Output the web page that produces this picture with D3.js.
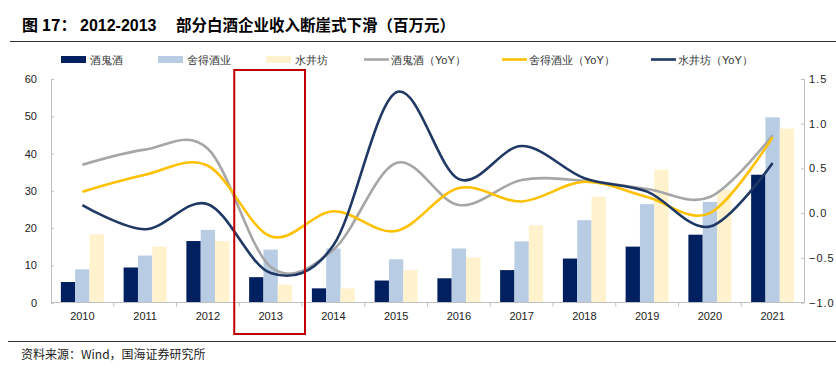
<!DOCTYPE html>
<html>
<head>
<meta charset="utf-8">
<script src="https://cdn.jsdelivr.net/npm/d3@7"></script>
<style>
  body { margin: 0; background: #fff; }
  text { font-family: "Liberation Sans", Arial, sans-serif; }
  .cn { font-family: "Noto Sans CJK SC", sans-serif; }
</style>
</head>
<body>
<div id="app"></div>
<script>
// data
const years = ["2010","2011","2012","2013","2014","2015","2016","2017","2018","2019","2020","2021"];
const barNames = ["酒鬼酒", "舍得酒业", "水井坊"];
const jgj = [5.5, 9.4, 16.5, 6.8, 3.8, 5.9, 6.5, 8.7, 11.8, 15.0, 18.2, 34.3];
const sd = [8.9, 12.6, 19.5, 14.2, 14.5, 11.6, 14.5, 16.4, 22.1, 26.4, 27.0, 49.7];
const sjf = [18.3, 15.0, 16.5, 4.8, 3.8, 8.7, 12.1, 20.7, 28.4, 35.7, 30.3, 46.7];
const lineNames = ["酒鬼酒（YoY）", "舍得酒业（YoY）", "水井坊（YoY）"];
const jgjYoY = [0.54, 0.71, 0.72, -0.60, -0.41, 0.56, 0.09, 0.37, 0.36, 0.27, 0.18, 0.87];
const sdYoY = [0.24, 0.43, 0.53, -0.26, 0.02, -0.20, 0.28, 0.13, 0.35, 0.18, 0.00, 0.85];
const sjfYoY = [0.09, -0.18, 0.10, -0.67, -0.36, 1.35, 0.38, 0.75, 0.39, 0.24, -0.15, 0.56];
const leftTicks = [0, 10, 20, 30, 40, 50, 60];
const rightTicks = [-1.0, -0.5, 0.0, 0.5, 1.0, 1.5];

const barColors = ["#002060", "#b8cce4", "#fff2cc"];
const lineColors = ["#a6a6a6", "#ffc000", "#1f3864"];

const width = 836, height = 377;
const margin = { left: 51, right: 32, top: 79, bottom: 74.5 };

const svg = d3.select("#app").append("svg")
  .attr("width", width).attr("height", height)
  .style("display", "block");

// title
const title = svg.append("text")
  .attr("y", 31)
  .attr("font-size", 16).attr("font-weight", "bold")
  .attr("fill", "#000");
title.append("tspan").attr("class", "cn").attr("x", 22).text("图 17：");
title.append("tspan").attr("x", 80).text("2012-2013");
title.append("tspan").attr("class", "cn").attr("x", 176)
  .attr("font-size", 15.5)
  .text("部分白酒企业收入断崖式下滑（百万元）");

svg.append("line")
  .attr("x1", 10).attr("x2", width).attr("y1", 41.5).attr("y2", 41.5)
  .attr("stroke", "#333").attr("stroke-width", 1.2);

// footer
svg.append("line")
  .attr("x1", 8).attr("x2", width).attr("y1", 341.5).attr("y2", 341.5)
  .attr("stroke", "#333").attr("stroke-width", 1.2);
svg.append("text")
  .attr("class", "cn")
  .attr("x", 21).attr("y", 359)
  .attr("font-size", 12).attr("fill", "#222")
  .text("资料来源：Wind，国海证券研究所");

const x = d3.scaleBand().domain(years)
  .range([margin.left, width - margin.right]);
// group of bars ~68% of each band
const groupW = x.step() * 0.685;
const xg = d3.scaleBand().domain(d3.range(3))
  .range([(x.step() - groupW) / 2, (x.step() + groupW) / 2]);

const y = d3.scaleLinear().domain([0, 60]).range([height - margin.bottom, margin.top]);
const y2 = d3.scaleLinear().domain([-1, 1.5]).range([height - margin.bottom, margin.top]);

// bars
const barSeries = [jgj, sd, sjf];
barSeries.forEach((vals, s) => {
  svg.append("g").selectAll("rect")
    .data(vals)
    .enter()
    .append("rect")
    .attr("x", (d, i) => x(years[i]) + xg(s))
    .attr("width", xg.bandwidth())
    .attr("y", d => y(d))
    .attr("height", d => y(0) - y(d))
    .attr("fill", barColors[s]);
});

// axes
const axisColor = "#bfbfbf";
const gl = svg.append("g")
  .attr("transform", "translate(" + margin.left + ",0)")
  .call(d3.axisRight(y).tickValues(leftTicks).tickSize(3).tickFormat(""));
gl.select(".domain").attr("stroke", axisColor);
gl.selectAll(".tick line").attr("stroke", axisColor);
svg.append("g").selectAll("text")
  .data(leftTicks).enter().append("text")
  .attr("x", 37).attr("y", d => y(d) + 4)
  .attr("text-anchor", "end")
  .attr("font-size", 11).attr("fill", "#222")
  .text(d => d);

const gr = svg.append("g")
  .attr("transform", "translate(" + (width - margin.right) + ",0)")
  .call(d3.axisLeft(y2).tickValues(rightTicks).tickSize(3).tickFormat(""));
gr.select(".domain").attr("stroke", axisColor);
gr.selectAll(".tick line").attr("stroke", axisColor);
svg.append("g").selectAll("text")
  .data(rightTicks).enter().append("text")
  .attr("x", width - margin.right + 5).attr("y", d => y2(d) + 4)
  .attr("font-size", 11).attr("fill", "#222")
  .attr("letter-spacing", 1)
  .text(d => d3.format(".1f")(d));

// x axis baseline with separators between years
const bx = svg.append("g");
bx.append("line")
  .attr("x1", margin.left).attr("x2", width - margin.right)
  .attr("y1", y(0)).attr("y2", y(0))
  .attr("stroke", axisColor);
bx.selectAll(".sep")
  .data(years.slice(1)).enter().append("line")
  .attr("x1", d => x(d)).attr("x2", d => x(d))
  .attr("y1", y(0)).attr("y2", y(0) + 4)
  .attr("stroke", axisColor);
bx.selectAll("text")
  .data(years).enter().append("text")
  .attr("x", d => x(d) + x.step() / 2)
  .attr("y", y(0) + 17)
  .attr("text-anchor", "middle")
  .attr("font-size", 11).attr("fill", "#222")
  .text(d => d);

// smooth lines
const lineSeries = [jgjYoY, sdYoY, sjfYoY];
const line = d3.line()
  .curve(d3.curveCatmullRom.alpha(0))
  .x((d, i) => x(years[i]) + x.step() / 2)
  .y(d => y2(d));
lineSeries.forEach((vals, s) => {
  svg.append("path")
    .datum(vals)
    .attr("d", line)
    .attr("fill", "none")
    .attr("stroke", lineColors[s])
    .attr("stroke-width", 2.6);
});

// red highlight box around 2013
const i13 = years.indexOf("2013");
svg.append("rect")
  .attr("x", x(years[i13]) - 5)
  .attr("y", 70)
  .attr("width", x.step() + 8)
  .attr("height", 264)
  .attr("fill", "none")
  .attr("stroke", "#c00000")
  .attr("stroke-width", 2);

// legend
const legend = svg.append("g").attr("class", "cn");
const barLegX = [61, 158, 266];
barNames.forEach((n, s) => {
  legend.append("rect")
    .attr("x", barLegX[s]).attr("y", 56)
    .attr("width", 25).attr("height", 7)
    .attr("fill", barColors[s]);
  legend.append("text")
    .attr("x", barLegX[s] + 29).attr("y", 64)
    .attr("font-size", 11).attr("fill", "#333")
    .text(n);
});
const lineLegX = [364, 502, 651];
lineNames.forEach((n, s) => {
  legend.append("line")
    .attr("x1", lineLegX[s]).attr("x2", lineLegX[s] + 25)
    .attr("y1", 59.5).attr("y2", 59.5)
    .attr("stroke", lineColors[s]).attr("stroke-width", 2.6);
  legend.append("text")
    .attr("x", lineLegX[s] + 27).attr("y", 64)
    .attr("font-size", 11).attr("fill", "#333")
    .text(n);
});
</script>
</body>
</html>
